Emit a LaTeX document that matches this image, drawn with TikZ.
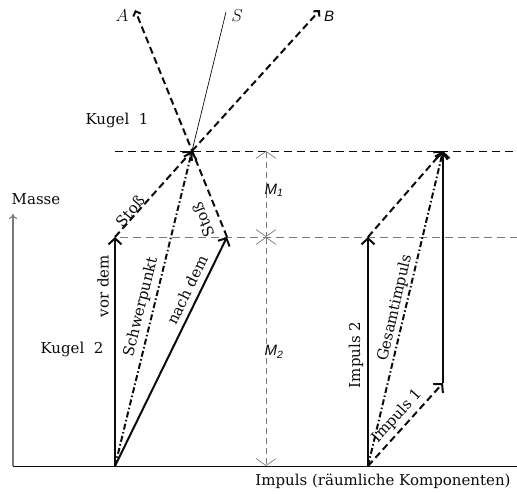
\documentclass[tikz,border=0pt]{standalone}
\usepackage{fontspec}
\setmainfont{DejaVu Serif}
\newfontfamily\letterfont{Liberation Sans}
\usepackage{xcolor}
\usetikzlibrary{arrows.meta}
\definecolor{cGrey}{HTML}{7A7A7A}
\definecolor{cDark}{HTML}{0B0B0B}

\begin{document}
\begin{tikzpicture}[
  x=1pt, y=-1pt,
  txt/.style={font=\fontsize{15}{17}\selectfont, text=cDark, inner sep=0pt},
  ltr/.style={font=\fontsize{17}{19}\selectfont, text=cDark, inner sep=0pt},
  sans/.style={ltr, font=\fontsize{15}{17}\selectfont\letterfont\itshape},
  vec/.style={draw=cDark, line width=2pt, -{Straight Barb[length=6pt,width=13pt]}},
  dvec/.style={vec, dash pattern=on 7pt off 4pt},
  ddvec/.style={vec, dash pattern=on 6pt off 2.5pt on 1.5pt off 2.5pt},
  far/.style={draw=cDark, line width=2pt, dash pattern=on 7pt off 4pt,
              -{Straight Barb[length=4pt,width=8pt]}},
  guide/.style={draw=cDark, line width=0.7pt, dash pattern=on 8pt off 5pt},
  dimline/.style={draw=cGrey, line width=0.7pt, dash pattern=on 6pt off 4pt,
                  {Straight Barb[length=7pt,width=20pt]}-{Straight Barb[length=7pt,width=20pt]}},
  axis/.style={draw=cDark, line width=0.9pt},
]
\useasboundingbox (0,0) rectangle (517,494);

% points
\coordinate (orig) at (13,466);
\coordinate (xend) at (517,466);
\coordinate (yend) at (13,214);
\coordinate (k2base) at (115,466);
\coordinate (k2top) at (115,237);
\coordinate (sp) at (192,151);
\coordinate (k2after) at (227,237);
\coordinate (tipA) at (135,10);
\coordinate (tipB) at (320,10);
\coordinate (tipS) at (226,12);
\coordinate (ibase) at (368,466);
\coordinate (i2top) at (368,237);
\coordinate (i1top) at (443,383);
\coordinate (itop) at (443,151);
\coordinate (dlow) at (266,466);
\coordinate (dmid) at (266,237);
\coordinate (dhigh) at (266,151);
\coordinate (rhigh) at (517,151);
\coordinate (rmid) at (517,237);
\coordinate (lmid) at (120,237);

% axes
\draw[axis] (orig) -- (xend);
\draw[draw=cGrey, line width=1.1pt, -{To[length=5pt,width=8pt]}] (orig) -- (yend);

% guide lines
\draw[guide] (k2top |- sp) -- (rhigh);
\draw[guide, draw=cGrey] (lmid) -- (rmid);
\draw[dimline] (dhigh) -- (dmid);
\draw[dimline] (dmid) -- (dlow);

% left: collision
\draw[vec] (k2base) -- (k2top);
\draw[vec] (k2base) -- (k2after);
\draw[dvec] (k2top) -- (sp);
\draw[ddvec] (k2base) -- (sp);
\draw[far] (sp) -- (tipB);
\draw[far] (k2after) -- (tipA);
\draw[draw=cDark, line width=0.7pt] (sp) -- (tipS);

% right: momenta
\draw[vec] (ibase) -- (i2top);
\draw[dvec] (ibase) -- (i1top);
\draw[vec] (i1top) -- (itop);
\draw[dvec] (i2top) -- (itop);
\draw[ddvec] (ibase) -- (itop);

% labels
\node[ltr] (labA) at (122,16) {$A$};
\node[ltr] (labS) at (237,16) {$S$};
\node[sans] (labB) at (329,16) {B};
\node[sans] (labM1) at (274,190) {M\textsubscript{1}};
\node[sans] (labM2) at (274,352) {M\textsubscript{2}};
\node[txt] (kugel1) at (117,120) {Kugel\ \ 1};
\node[txt] (kugel2) at (72,349) {Kugel\ \ 2};
\node[txt] (masse) at (36,199) {Masse};
\node[txt] (impuls) at (383,481) {Impuls (räumliche Komponenten)};
\node[txt, rotate=90] (vordem) at (103,286) {vor dem};
\node[txt, rotate=49] (stoss1) at (130,211) {Stoß};
\node[txt, rotate=76] (schwer) at (141,307) {Schwerpunkt};
\node[txt, rotate=64] (nachdem) at (187,290) {nach dem};
\node[txt, rotate=112] (stoss2) at (203,220) {Stoß};
\node[txt, rotate=90] (imp2) at (356,355) {Impuls 2};
\node[txt, rotate=77] (gesamt) at (395,308) {Gesamtimpuls};
\node[txt, rotate=48] (imp1) at (397,416) {Impuls 1};
\end{tikzpicture}
\end{document}
